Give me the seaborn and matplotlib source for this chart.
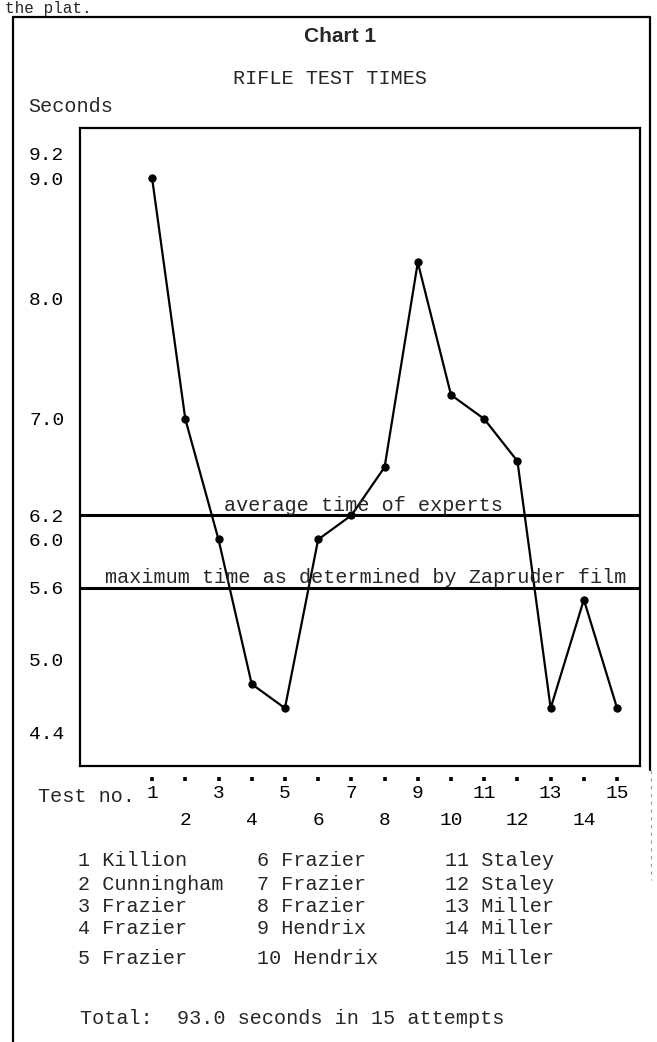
import matplotlib
matplotlib.use("Agg")
import matplotlib.pyplot as plt
import seaborn as sns
import pandas as pd
from matplotlib.lines import Line2D

# ---------------- data ----------------
test_no = list(range(1, 16))
seconds = [9.0, 7.0, 6.0, 4.8, 4.6, 6.0, 6.2, 6.6, 8.3, 7.2, 7.0, 6.65, 4.6, 5.5, 4.6]
shooters = ["Killion", "Cunningham", "Frazier", "Frazier", "Frazier",
            "Frazier", "Frazier", "Frazier", "Hendrix", "Hendrix",
            "Staley", "Staley", "Miller", "Miller", "Miller"]
y_ticks = [9.2, 9.0, 8.0, 7.0, 6.2, 6.0, 5.6, 5.0, 4.4]
y_tick_labels = ["9.2", "9.0", "8.0", "7.0", "6.2", "6.0", "5.6", "5.0", "4.4"]
expert_avg = 6.2
zapruder_max = 5.6
expert_label = "average time of experts"
zapruder_label = "maximum time as determined by Zapruder film"
total_text = "Total:  93.0 seconds in 15 attempts"

df = pd.DataFrame({"test": test_no, "seconds": seconds})

# ---------------- style ----------------
sns.set_style("white")
MONO = ["Liberation Mono", "DejaVu Sans Mono"]
plt.rcParams["font.family"] = MONO

W, H = 657, 1042
def fx(px): return px / W
def fy(py): return 1 - py / H

fig = plt.figure(figsize=(W / 100, H / 100), dpi=100)
fig.patch.set_facecolor("white")

ax_l, ax_r, ax_t, ax_b = 80, 640, 128, 766
ax = fig.add_axes([fx(ax_l), fy(ax_b), (ax_r - ax_l) / W, (ax_b - ax_t) / H])

sns.lineplot(data=df, x="test", y="seconds", ax=ax, color="black",
             linewidth=1.6, marker="o", markersize=6, markeredgewidth=0)

ax.axhline(expert_avg, color="black", linewidth=2.2)
ax.axhline(zapruder_max, color="black", linewidth=2.2)

ax.annotate(expert_label, xy=(0.507, expert_avg),
            xycoords=ax.get_yaxis_transform(), xytext=(0, 0.5),
            textcoords="offset points", ha="center", va="bottom", fontsize=14.5)
ax.annotate(zapruder_label, xy=(0.0446, zapruder_max),
            xycoords=ax.get_yaxis_transform(), xytext=(0, 0.5),
            textcoords="offset points", ha="left", va="bottom", fontsize=14.5)

ax.set_xlim(-1.17, 15.69)
ax.set_ylim(4.12, 9.415)
ax.set_xlabel("")
ax.set_ylabel("")
ax.set_yticks(y_ticks)
ax.set_yticklabels(y_tick_labels)
ax.tick_params(axis="y", direction="inout", length=4.5, width=2.6, pad=9,
               labelsize=14, colors="black")
ax.tick_params(axis="x", bottom=False, labelbottom=False)
for s in ax.spines.values():
    s.set_visible(True)
    s.set_color("black")
    s.set_linewidth(1.6)

# x ticks as dots below the frame, staggered labels
sec = ax.secondary_xaxis(-13 / (ax_b - ax_t))
sec.set_xticks(test_no)
sec.set_xticklabels([str(n) if n % 2 else "\n" + str(n) for n in test_no])
sec.tick_params(direction="inout", length=2.6, width=2.6, pad=3,
                labelsize=14, colors="black")
sec.spines["bottom"].set_visible(False)
for lbl in sec.get_xticklabels():
    lbl.set_linespacing(1.75)

# ---------------- texts ----------------
fig.text(fx(340), fy(37), "Chart 1", ha="center", va="center",
         fontsize=15, fontweight="bold", family=["Liberation Sans", "DejaVu Sans"])
fig.text(fx(330), fy(78), "RIFLE TEST TIMES", ha="center", va="center", fontsize=14.5)
fig.text(fx(28), fy(107), "Seconds", ha="left", va="center", fontsize=14.5)
fig.text(fx(38), fy(796), "Test no.", ha="left", va="center", fontsize=14.5)
fig.text(fx(5), fy(0.5), "the plat.", ha="left", va="top", fontsize=11.5)

col_x = [78, 257, 445]
row_y = [860, 884, 906, 929, 958]
for i, (n, name) in enumerate(zip(test_no, shooters)):
    fig.text(fx(col_x[i // 5]), fy(row_y[i % 5]), f"{n} {name}",
             ha="left", va="center", fontsize=14.5)
fig.text(fx(80), fy(1018), total_text, ha="left", va="center", fontsize=14.5)

# outer frame of the page figure
fig.add_artist(Line2D([fx(13), fx(650)], [fy(17), fy(17)], transform=fig.transFigure,
                      color="black", linewidth=1.6))
fig.add_artist(Line2D([fx(13), fx(13)], [fy(17), fy(1042)], transform=fig.transFigure,
                      color="black", linewidth=1.6))
fig.add_artist(Line2D([fx(650), fx(650)], [fy(17), fy(770)], transform=fig.transFigure,
                      color="black", linewidth=1.6))
fig.add_artist(Line2D([fx(651), fx(651)], [fy(770), fy(880)], transform=fig.transFigure,
                      color="#999999", linewidth=0.8, linestyle=(0, (3, 4))))

fig.savefig("out.png", dpi=100)
